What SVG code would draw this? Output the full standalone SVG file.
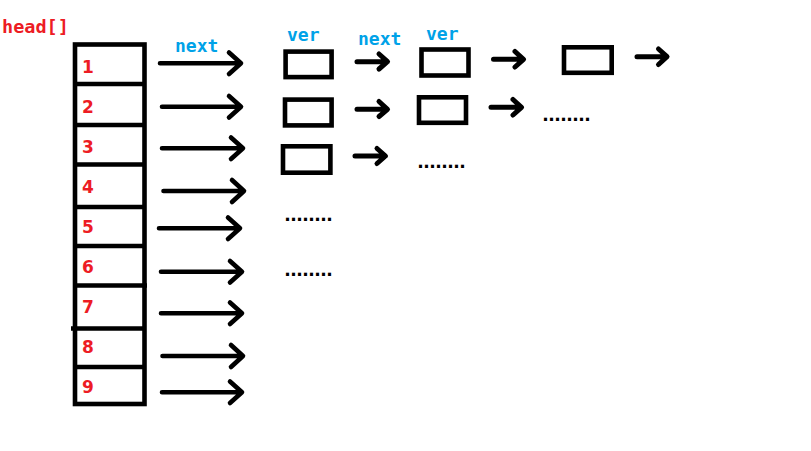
<svg xmlns="http://www.w3.org/2000/svg" width="811" height="451" viewBox="0 0 811 451">
<style>
.red{fill:#ed1c24;font-family:"DejaVu Sans Mono",monospace;font-weight:bold}
.num{fill:#ed1c24;font-family:"DejaVu Sans",sans-serif;font-weight:bold;font-size:17px}
.blue{fill:#00a2e8;font-family:"DejaVu Sans Mono",monospace;font-weight:bold;font-size:18px}
.dots{fill:#000;font-family:"Liberation Sans",sans-serif;font-weight:bold;font-size:21.6px}
.box{fill:none;stroke:#000;stroke-width:4.6}
.arr{fill:none;stroke:#000;stroke-width:4.6;stroke-linecap:round;stroke-linejoin:round}
.sarr{fill:none;stroke:#000;stroke-width:5;stroke-linecap:round;stroke-linejoin:round}
</style>
<rect width="811" height="451" fill="#fff"/>
<text class="red" x="2" y="33" font-size="18.5">head[]</text>
<g id="array">
<rect class="box" x="75" y="44.5" width="69.5" height="359.5"/>
<path class="box" d="M75 84H144.5M75 125H144.5M75 164.5H144.5M75 207H144.5M75 246H144.5M75 285.5H147M71 328.5H144.5M75 367H144.5"/>
<text class="num" x="82" y="73">1</text>
<text class="num" x="82" y="113">2</text>
<text class="num" x="82" y="153">3</text>
<text class="num" x="82" y="193">4</text>
<text class="num" x="82" y="233">5</text>
<text class="num" x="82" y="273">6</text>
<text class="num" x="82" y="313">7</text>
<text class="num" x="82" y="353">8</text>
<text class="num" x="82" y="393">9</text>
</g>
<g id="labels">
<text class="blue" x="175" y="52">next</text>
<text class="blue" x="287" y="41">ver</text>
<text class="blue" x="358" y="45">next</text>
<text class="blue" x="426" y="40">ver</text>
</g>
<g id="nodes">
<rect id="n11" class="box" x="285.6" y="51.6" width="46" height="25.5"/>
<rect id="n12" class="box" x="421.5" y="49.5" width="47" height="26"/>
<rect id="n13" class="box" x="564" y="47.3" width="47.7" height="25.5"/>
<rect id="n21" class="box" x="285" y="99.6" width="46.6" height="25.8"/>
<rect id="n22" class="box" x="419" y="97.3" width="47" height="25.5"/>
<rect id="n31" class="box" x="283" y="146.3" width="47.4" height="26.4"/>
</g>
<g id="connectors">
<path class="arr" d="M160 63.3H240M229 52.5L241 63.3L229 74"/>
<path class="arr" d="M162 106.7H240M229 96L241 106.7L229 117.5"/>
<path class="arr" d="M162 148.3H242M231 137.5L243 148.3L231 159"/>
<path class="arr" d="M163.5 191H243M232 180L244 191L232 202"/>
<path class="arr" d="M159 228.3H239M228 217.5L240 228.3L228 239"/>
<path class="arr" d="M161 271.7H241M230 261L242 271.7L230 282.5"/>
<path class="arr" d="M161 313.3H241M230 302.5L242 313.3L230 324"/>
<path class="arr" d="M162.5 356H242M231 345L243 356L231 367"/>
<path class="arr" d="M162 392.3H241M230 381.5L242 392.3L230 403"/>
<path class="sarr" d="M357 61.7H387M379 54L387.5 61.7L379 69"/>
<path class="sarr" d="M357 109.3H387M379 101.5L387.5 109.3L379 116.5"/>
<path class="sarr" d="M355 156H385M377 148.5L385.5 156L377 163.5"/>
<path class="sarr" d="M493.5 59.3H523M515 51.5L523.5 59.3L515 67"/>
<path class="sarr" d="M637 56.7H666.5M658.5 49L667 56.7L658.5 64.5"/>
<path class="sarr" d="M491 107.3H521M513 99.5L521.5 107.3L513 115"/>
</g>
<g id="ellipses">
<text class="dots" x="417.5" y="167.5">........</text>
<text class="dots" x="542.5" y="121">........</text>
<text class="dots" x="284.5" y="221">........</text>
<text class="dots" x="284.5" y="276">........</text>
</g>
</svg>
